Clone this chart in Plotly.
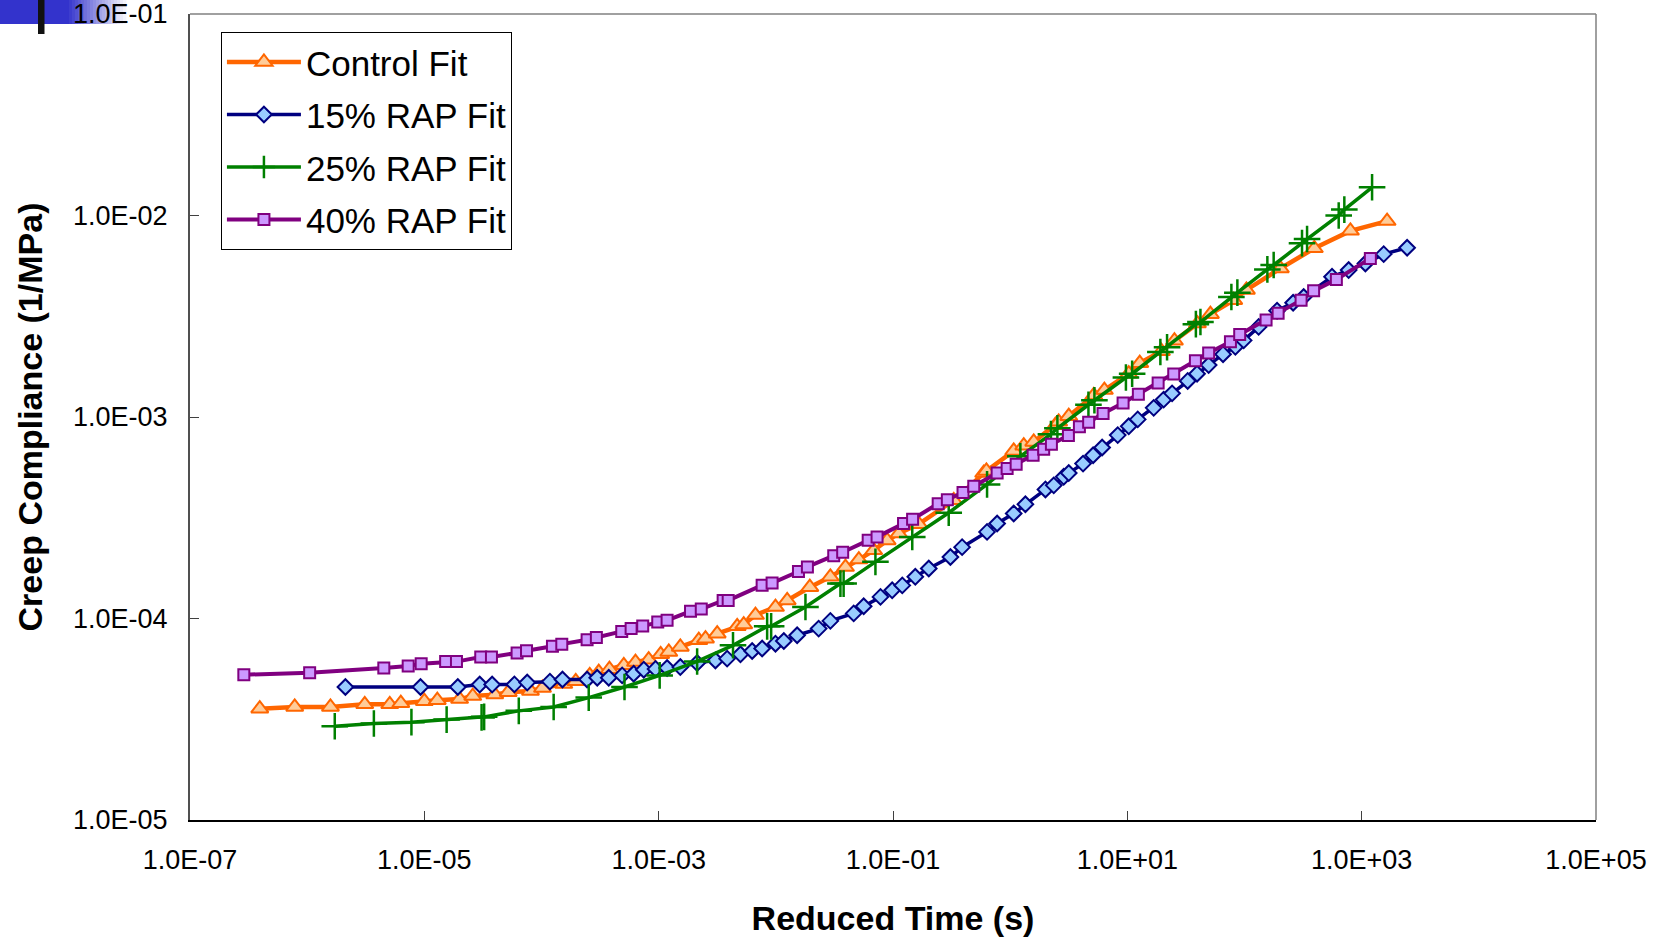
import plotly.graph_objects as go

# ---------------- data ----------------
control_t = [3.94e-7, 7.83e-7, 1.58e-6, 3.10e-6, 5.07e-6, 6.30e-6, 1.00e-5, 1.29e-5, 2.00e-5, 2.59e-5,
             3.99e-5, 5.20e-5, 8.05e-5, 1.02e-4, 1.55e-4, 1.96e-4, 2.58e-4, 3.08e-4, 3.80e-4, 5.04e-4,
             6.34e-4, 8.22e-4, 1.04e-3, 1.22e-3, 1.53e-3, 2.20e-3, 2.51e-3, 3.16e-3, 4.68e-3, 5.32e-3,
             6.70e-3, 9.93e-3, 1.25e-2, 1.95e-2, 2.92e-2, 3.93e-2, 5.11e-2, 6.84e-2, 8.91e-2, 0.112,
             0.166, 0.330, 0.594, 0.627, 1.072, 1.306, 1.589, 2.432, 2.594, 3.162,
             5.164, 6.368, 10.28, 12.76, 19.54, 25.23, 39.63, 51.17, 80.91, 103.8,
             202.3, 394.5, 801.7, 1648]
control_d = [3.57e-5, 3.64e-5, 3.64e-5, 3.75e-5, 3.75e-5, 3.80e-5, 3.89e-5, 3.93e-5, 3.98e-5, 4.12e-5,
             4.19e-5, 4.31e-5, 4.37e-5, 4.52e-5, 4.73e-5, 4.88e-5, 5.22e-5, 5.42e-5, 5.60e-5, 5.86e-5,
             6.08e-5, 6.25e-5, 6.64e-5, 6.82e-5, 7.23e-5, 7.80e-5, 7.94e-5, 8.41e-5, 9.14e-5, 9.33e-5,
             1.04e-4, 1.14e-4, 1.23e-4, 1.43e-4, 1.61e-4, 1.80e-4, 1.96e-4, 2.18e-4, 2.44e-4, 2.64e-4,
             2.94e-4, 3.86e-4, 5.27e-4, 5.40e-4, 6.79e-4, 7.21e-4, 7.52e-4, 9.10e-4, 9.46e-4, 1.01e-3,
             1.28e-3, 1.36e-3, 1.64e-3, 1.85e-3, 2.12e-3, 2.39e-3, 2.91e-3, 3.24e-3, 3.80e-3, 4.27e-3,
             5.46e-3, 6.87e-3, 8.39e-3, 9.38e-3]

rap15_t = [2.12e-6, 9.27e-6, 1.93e-5, 2.97e-5, 3.79e-5, 5.87e-5, 7.55e-5, 1.18e-4, 1.51e-4, 2.45e-4,
           2.99e-4, 3.75e-4, 4.88e-4, 6.12e-4, 7.46e-4, 9.40e-4, 1.18e-3, 1.53e-3, 2.13e-3, 3.05e-3,
           3.84e-3, 4.99e-3, 6.28e-3, 7.64e-3, 9.93e-3, 1.17e-2, 1.52e-2, 2.32e-2, 2.92e-2, 4.62e-2,
           5.62e-2, 7.82e-2, 9.84e-2, 0.120, 0.155, 0.202, 0.309, 0.389, 0.635, 0.774,
           1.072, 1.349, 2.000, 2.355, 2.864, 3.162, 4.188, 5.105, 6.095, 8.279,
           10.28, 12.27, 16.79, 20.42, 24.10, 32.73, 39.36, 49.43, 65.61, 83.56,
           98.40, 132.1, 189.7, 260.0, 319.9, 558.5, 774.5, 1076, 1542, 2443]
rap15_d = [4.57e-5, 4.57e-5, 4.57e-5, 4.70e-5, 4.70e-5, 4.71e-5, 4.81e-5, 4.86e-5, 4.98e-5, 4.98e-5,
           5.08e-5, 5.08e-5, 5.22e-5, 5.32e-5, 5.57e-5, 5.62e-5, 5.68e-5, 5.74e-5, 6.01e-5, 6.19e-5,
           6.32e-5, 6.64e-5, 6.90e-5, 7.10e-5, 7.50e-5, 7.73e-5, 8.26e-5, 8.91e-5, 9.73e-5, 1.06e-4,
           1.15e-4, 1.28e-4, 1.38e-4, 1.46e-4, 1.61e-4, 1.77e-4, 2.02e-4, 2.26e-4, 2.69e-4, 2.96e-4,
           3.32e-4, 3.69e-4, 4.37e-4, 4.58e-4, 5.05e-4, 5.27e-4, 5.87e-4, 6.46e-4, 7.06e-4, 8.13e-4,
           8.99e-4, 9.73e-4, 1.11e-3, 1.22e-3, 1.31e-3, 1.51e-3, 1.64e-3, 1.81e-3, 2.05e-3, 2.23e-3,
           2.40e-3, 2.80e-3, 3.37e-3, 3.69e-3, 3.94e-3, 4.97e-3, 5.36e-3, 5.78e-3, 6.43e-3, 6.92e-3]

rap25_t = [1.72e-6, 3.71e-6, 7.76e-6, 1.55e-5, 3.08e-5, 3.24e-5, 6.40e-5, 1.27e-4, 2.53e-4, 5.11e-4,
           1.02e-3, 2.13e-3, 4.31e-3, 8.43e-3, 9.12e-3, 1.79e-2, 3.56e-2, 3.79e-2, 7.08e-2, 0.146,
           0.299, 0.635, 1.222, 2.228, 2.529, 4.656, 5.236, 9.727, 10.99, 19.14,
           21.83, 38.46, 42.07, 77.27, 86.90, 156.7, 177.4, 309.7, 342.0, 636.8,
           711.2, 1227]
rap25_d = [2.92e-5, 3.01e-5, 3.06e-5, 3.15e-5, 3.23e-5, 3.25e-5, 3.48e-5, 3.64e-5, 4.05e-5, 4.57e-5,
           5.22e-5, 6.12e-5, 7.36e-5, 9.14e-5, 9.14e-5, 1.14e-4, 1.49e-4, 1.49e-4, 1.91e-4, 2.54e-4,
           3.35e-4, 4.63e-4, 6.38e-4, 8.22e-4, 8.79e-4, 1.15e-3, 1.21e-3, 1.57e-3, 1.64e-3, 2.10e-3,
           2.22e-3, 2.89e-3, 2.96e-3, 3.94e-3, 4.14e-3, 5.40e-3, 5.68e-3, 7.29e-3, 7.64e-3, 1.00e-2,
           1.07e-2, 1.38e-2]

rap40_t = [2.88e-7, 1.05e-6, 4.51e-6, 7.28e-6, 9.40e-6, 1.52e-5, 1.88e-5, 3.03e-5, 3.74e-5, 6.19e-5,
           7.45e-5, 1.24e-4, 1.49e-4, 2.45e-4, 2.94e-4, 4.84e-4, 5.82e-4, 7.31e-4, 9.82e-4, 1.18e-3,
           1.87e-3, 2.31e-3, 3.55e-3, 3.92e-3, 7.64e-3, 9.29e-3, 1.56e-2, 1.86e-2, 3.12e-2, 3.72e-2,
           6.14e-2, 7.31e-2, 0.123, 0.147, 0.243, 0.291, 0.396, 0.489, 0.774, 0.942,
           1.125, 1.570, 1.932, 2.249, 3.141, 3.899, 4.677, 6.209, 9.20, 12.42,
           18.32, 24.89, 38.11, 49.43, 75.86, 91.0, 152.8, 193.6, 304.1, 389.0,
           608.1, 1186]
rap40_d = [5.26e-5, 5.38e-5, 5.68e-5, 5.81e-5, 5.97e-5, 6.11e-5, 6.11e-5, 6.44e-5, 6.44e-5, 6.75e-5,
           6.92e-5, 7.28e-5, 7.46e-5, 7.85e-5, 8.04e-5, 8.63e-5, 8.91e-5, 9.18e-5, 9.62e-5, 9.79e-5,
           1.086e-4, 1.114e-4, 1.230e-4, 1.230e-4, 1.462e-4, 1.500e-4, 1.710e-4, 1.803e-4, 2.051e-4, 2.133e-4,
           2.443e-4, 2.541e-4, 2.958e-4, 3.112e-4, 3.715e-4, 3.890e-4, 4.217e-4, 4.529e-4, 5.272e-4, 5.546e-4,
           5.834e-4, 6.457e-4, 6.918e-4, 7.328e-4, 8.091e-4, 8.933e-4, 9.419e-4, 1.040e-3, 1.175e-3, 1.297e-3,
           1.476e-3, 1.633e-3, 1.901e-3, 2.080e-3, 2.360e-3, 2.570e-3, 3.027e-3, 3.273e-3, 3.802e-3, 4.227e-3,
           4.819e-3, 6.124e-3]

x_tickvals = [1e-7, 1e-5, 1e-3, 1e-1, 1e1, 1e3, 1e5]
x_ticktext = ["1.0E-07", "1.0E-05", "1.0E-03", "1.0E-01", "1.0E+01", "1.0E+03", "1.0E+05"]
y_tickvals = [1e-5, 1e-4, 1e-3, 1e-2, 1e-1]
y_ticktext = ["1.0E-05", "1.0E-04", "1.0E-03", "1.0E-02", "1.0E-01"]

FONT = "Liberation Sans, Arial, sans-serif"

fig = go.Figure()
fig.add_trace(go.Scatter(
    x=control_t, y=control_d, name="Control Fit", mode="lines+markers", legendgroup="a",
    line=dict(color="#FF6600", width=4.5),
    marker=dict(symbol="triangle-up", size=15, color="#FFCC99",
                line=dict(color="#FF6600", width=2))))
fig.add_trace(go.Scatter(
    x=rap15_t, y=rap15_d, name="15% RAP Fit", mode="lines+markers", legendgroup="b",
    line=dict(color="#000080", width=3.5),
    marker=dict(symbol="diamond", size=12, color="#99CCFF",
                line=dict(color="#000080", width=2))))
fig.add_trace(go.Scatter(
    x=rap25_t, y=rap25_d, name="25% RAP Fit", mode="lines+markers", legendgroup="c",
    line=dict(color="#008000", width=3.5),
    marker=dict(symbol="cross-thin", size=19, color="#008000",
                line=dict(color="#008000", width=2.5))))
fig.add_trace(go.Scatter(
    x=rap40_t, y=rap40_d, name="40% RAP Fit", mode="lines+markers", legendgroup="d",
    line=dict(color="#800080", width=4),
    marker=dict(symbol="square", size=11, color="#CC99FF",
                line=dict(color="#800080", width=2))))

L, R, T, B = 190, 73, 14, 120
W, H = 1669, 940
pw, ph = W - L - R, H - T - B


def px(x):
    return (x - L) / pw


def py(y):
    return (H - B - y) / ph


shapes = []
# frame (top and right, gray)
shapes.append(dict(type="line", xref="paper", yref="paper", x0=0, x1=1, y0=1, y1=1,
                   line=dict(color="#808080", width=1.5), layer="above"))
shapes.append(dict(type="line", xref="paper", yref="paper", x0=1, x1=1, y0=0, y1=1,
                   line=dict(color="#808080", width=1.5), layer="above"))
# slide decoration: blue bar fading to white in the top-left corner
shapes.append(dict(type="rect", xref="paper", yref="paper", x0=px(0), x1=px(66),
                   y0=py(24), y1=py(0), line=dict(width=0), fillcolor="rgb(51,51,204)", layer="below"))
n = 20
for i in range(n):
    a = i / n
    r = int(51 + (255 - 51) * a)
    g = int(51 + (255 - 51) * a)
    b = int(204 + (255 - 204) * a)
    shapes.append(dict(type="rect", xref="paper", yref="paper",
                       x0=px(66 + i * 3), x1=px(66 + (i + 1) * 3 + 0.5),
                       y0=py(24), y1=py(0), line=dict(width=0),
                       fillcolor=f"rgb({r},{g},{b})", layer="below"))
shapes.append(dict(type="rect", xref="paper", yref="paper", x0=px(38), x1=px(44.5),
                   y0=py(34), y1=py(0), line=dict(width=0), fillcolor="#111111", layer="below"))

fig.update_layout(
    width=W, height=H,
    margin=dict(l=L, r=R, t=T, b=B, autoexpand=False),
    paper_bgcolor="white", plot_bgcolor="white",
    font=dict(family=FONT, color="black"),
    showlegend=True,
    legend=dict(x=0.022, y=0.978, xanchor="left", yanchor="top",
                bgcolor="white", bordercolor="black", borderwidth=1,
                font=dict(family=FONT, size=35, color="black"),
                itemwidth=74, traceorder="grouped", tracegroupgap=4),
    shapes=shapes,
)
fig.update_xaxes(
    type="log", range=[-7, 5], tickmode="array", tickvals=x_tickvals, ticktext=x_ticktext,
    ticks="inside", ticklen=9, tickwidth=1, tickcolor="#404040",
    showline=True, linecolor="black", linewidth=2, showgrid=False, zeroline=False,
    tickfont=dict(family=FONT, size=27, color="black"), ticklabelstandoff=15,
    ticklabeloverflow="allow",
    title=dict(text="<b>Reduced Time (s)</b>", font=dict(family=FONT, size=34, color="black"), standoff=32),
)
fig.update_yaxes(
    type="log", range=[-5, -1], tickmode="array", tickvals=y_tickvals, ticktext=y_ticktext,
    ticks="inside", ticklen=9, tickwidth=1, tickcolor="#404040",
    showline=True, linecolor="#505050", linewidth=2, showgrid=False, zeroline=False,
    tickfont=dict(family=FONT, size=27, color="black"), ticklabelstandoff=15,
    ticklabeloverflow="allow",
    title=dict(text="<b>Creep Compliance (1/MPa)</b>", font=dict(family=FONT, size=34, color="black"), standoff=20),
)

fig.write_html("out.html", config={"displayModeBar": False},
               post_script="document.body.style.margin='0px';document.body.style.padding='0px';")
